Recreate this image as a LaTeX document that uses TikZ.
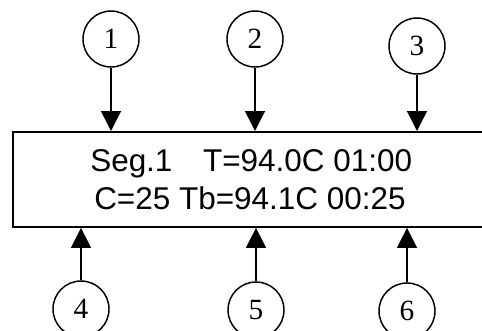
\documentclass[tikz,border=0pt]{standalone}
\usepackage{fontspec}
\setmainfont{Liberation Serif}
\newfontfamily\lcdfont{Liberation Sans}
\usetikzlibrary{arrows.meta}
\begin{document}
\begin{tikzpicture}[x=0.75pt,y=-0.75pt,
  callout/.style={draw,line width=1.1pt,circle,minimum size=42pt,inner sep=0pt,
    font=\fontsize{22}{26}\selectfont},
  pointer/.style={line width=1.1pt,-{Triangle[length=15pt,width=15pt]}},
  display/.style={draw,line width=1.4pt,inner sep=0pt},
  lcdline/.style={font=\lcdfont\fontsize{23.6}{28}\selectfont,inner sep=0pt,anchor=base west}]
\useasboundingbox (0,0) rectangle (482,330);
% display frame (runs off the right edge)
\node[display,anchor=north west,minimum width=480pt,minimum height=71.25pt] (lcd) at (12,131) {};
% the two text lines of the display
\node[lcdline] (row1) at (90,171) {Seg.1\hspace{23pt}T=94.0C 01:00};
\node[lcdline] (row2) at (94,209) {C=25 Tb=94.1C 00:25};
% numbered callouts
\node[callout] (c1) at (111,39) {1};
\node[callout] (c2) at (255,39) {2};
\node[callout] (c3) at (417,46) {3};
\node[callout] (c4) at (81,309) {4};
\node[callout] (c5) at (256,310) {5};
\node[callout] (c6) at (407,311) {6};
% pointers onto the display
\draw[pointer] (c1) -- (c1 |- lcd.north);
\draw[pointer] (c2) -- (c2 |- lcd.north);
\draw[pointer] (c3) -- (c3 |- lcd.north);
\draw[pointer] (c4) -- (c4 |- lcd.south);
\draw[pointer] (c5) -- (c5 |- lcd.south);
\draw[pointer] (c6) -- (c6 |- lcd.south);
\end{tikzpicture}
\end{document}
